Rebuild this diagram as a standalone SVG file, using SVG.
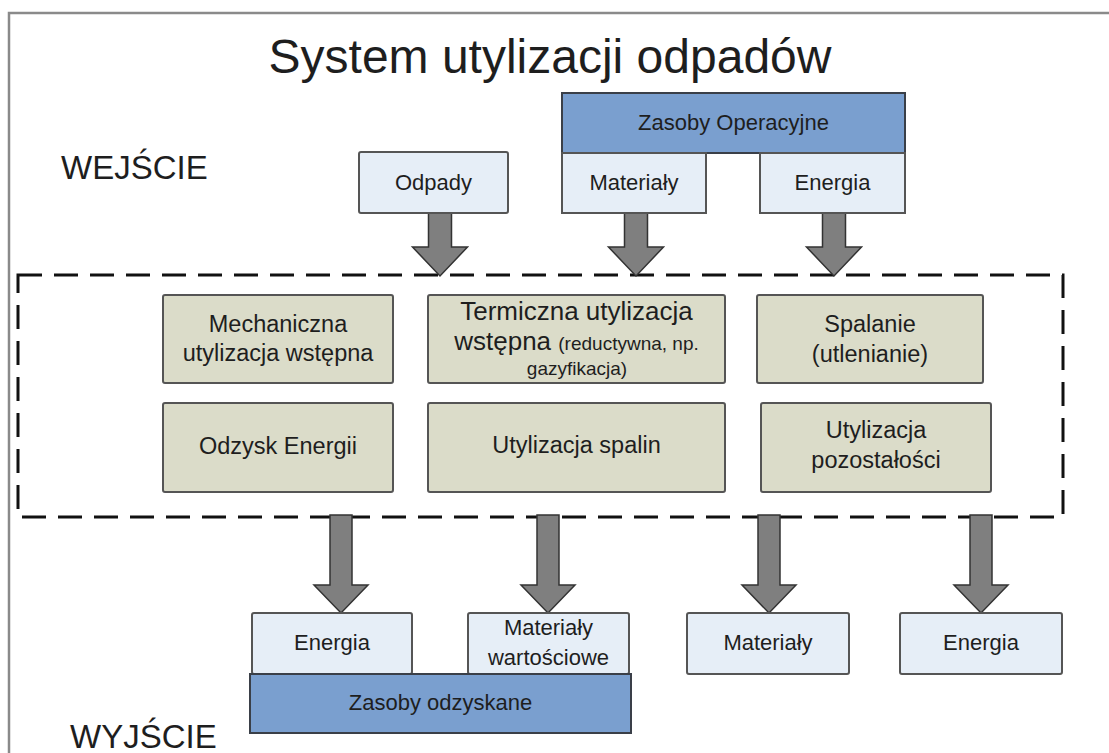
<svg xmlns="http://www.w3.org/2000/svg" width="1109" height="753" viewBox="0 0 1109 753">
<style>
text{font-family:"Liberation Sans",Arial,sans-serif;fill:#1e1e1e}
.c{text-anchor:middle}
.t22{font-size:22px}
.t23{font-size:23.5px}
.dark{fill:#7a9fcf;stroke:#3a3f48;stroke-width:2}
.light{fill:#e6eef7;stroke:#555;stroke-width:2}
.green{fill:#dbdcc9;stroke:#555;stroke-width:2}
.arr{fill:#7f7f7f;stroke:#333;stroke-width:1.5;stroke-linejoin:miter}
</style>
<rect width="1109" height="753" fill="#fff"/>
<rect x="9" y="13" width="1120" height="760" fill="none" stroke="#8a8a8a" stroke-width="2.5"/>
<text x="550" y="73" class="c" style="font-size:48px">System utylizacji odpadów</text>
<text x="61" y="179" style="font-size:33px">WEJŚCIE</text>
<text x="70" y="748" style="font-size:33px">WYJŚCIE</text>
<rect id="process-area" x="18" y="275" width="1045" height="242" fill="none" stroke="#111" stroke-width="3" stroke-dasharray="24 12"/>

<g id="connectors">
<path class="arr" d="M428.5 213 H451.5 V247 H467.5 L440 276 L412.5 247 H428.5 Z"/>
<path class="arr" d="M624.5 213 H647.5 V247 H663.5 L636 276 L608.5 247 H624.5 Z"/>
<path class="arr" d="M822.5 213 H845.5 V247 H861.5 L834 276 L806.5 247 H822.5 Z"/>
<path class="arr" d="M330 515 H352 V585 H368 L341 613 L314 585 H330 Z"/>
<path class="arr" d="M537 515 H559 V585 H575 L548 613 L521 585 H537 Z"/>
<path class="arr" d="M758 515 H780 V585 H796 L769 613 L742 585 H758 Z"/>
<path class="arr" d="M970 515 H992 V585 H1008 L981 613 L954 585 H970 Z"/>
</g>

<g id="zasoby-operacyjne"><rect class="dark" x="562" y="93" width="343" height="60"/><text x="733.5" y="130" class="c t22">Zasoby Operacyjne</text></g>
<g id="odpady"><rect class="light" x="359" y="152" width="149" height="61" rx="2"/><text x="433.5" y="190" class="c t22">Odpady</text></g>
<g id="materialy-in"><rect class="light" x="562" y="153" width="144" height="60"/><text x="634" y="190" class="c t22">Materiały</text></g>
<g id="energia-in"><rect class="light" x="760" y="153" width="145" height="60"/><text x="832.5" y="190" class="c t22">Energia</text></g>

<g id="mechaniczna"><rect class="green" x="163" y="295" width="230" height="88" rx="2"/><text x="278" y="332" class="c t23">Mechaniczna</text><text x="278" y="361" class="c t23">utylizacja wstępna</text></g>
<g id="termiczna"><rect class="green" x="428" y="295" width="297" height="88" rx="2"/><text x="576.5" y="320" class="c" style="font-size:26px">Termiczna utylizacja</text><text x="576.5" y="350" class="c" style="font-size:26px">wstępna <tspan style="font-size:19px">(reductywna, np.</tspan></text><text x="577" y="375" class="c" style="font-size:19px">gazyfikacja)</text></g>
<g id="spalanie"><rect class="green" x="757" y="295" width="226" height="88" rx="2"/><text x="870" y="332" class="c t23">Spalanie</text><text x="870" y="362" class="c t23">(utlenianie)</text></g>
<g id="odzysk"><rect class="green" x="163" y="403" width="230" height="89" rx="2"/><text x="278" y="454" class="c t23">Odzysk Energii</text></g>
<g id="spaliny"><rect class="green" x="428" y="403" width="297" height="89" rx="2"/><text x="576.5" y="453" class="c t23">Utylizacja spalin</text></g>
<g id="pozostalosci"><rect class="green" x="761" y="403" width="230" height="89" rx="2"/><text x="876" y="438" class="c t23">Utylizacja</text><text x="876" y="468" class="c t23">pozostałości</text></g>

<g id="energia-out1"><rect class="light" x="252" y="613" width="160" height="61" rx="2"/><text x="332" y="650" class="c t22">Energia</text></g>
<g id="materialy-wart"><rect class="light" x="468" y="613" width="161" height="61" rx="2"/><text x="548.5" y="635" class="c t22">Materiały</text><text x="548.5" y="665" class="c t22">wartościowe</text></g>
<g id="zasoby-odzyskane"><rect class="dark" x="250" y="674" width="381" height="59"/><text x="440.5" y="710" class="c t22">Zasoby odzyskane</text></g>
<g id="materialy-out"><rect class="light" x="687" y="613" width="162" height="61" rx="2"/><text x="768" y="650" class="c t22">Materiały</text></g>
<g id="energia-out2"><rect class="light" x="900" y="613" width="162" height="61" rx="2"/><text x="981" y="650" class="c t22">Energia</text></g>
</svg>
